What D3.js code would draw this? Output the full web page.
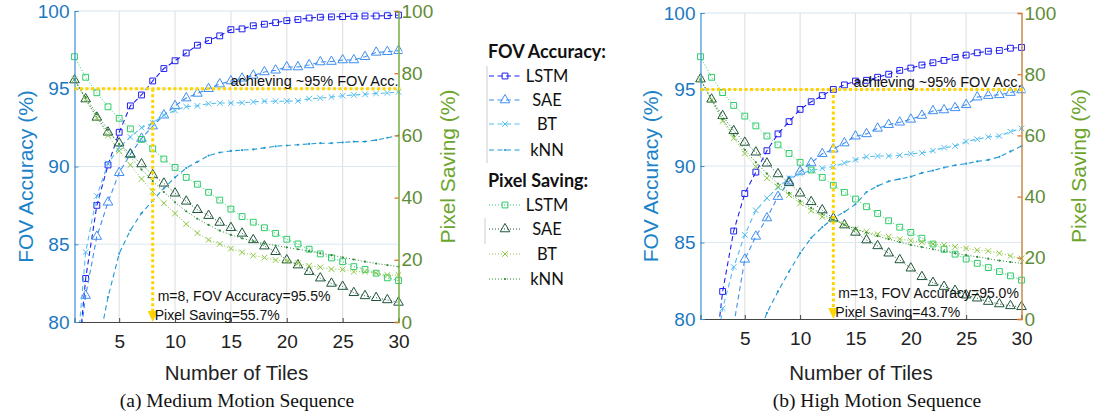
<!DOCTYPE html>
<html lang="en">
  <head>
    <title>FOV accuracy and pixel saving</title>
    <script src="https://d3js.org/d3.v7.min.js"></script>
    <style>
      body { margin: 0; background: #fff; }
      text { font-family: 'Liberation Sans', Arial, sans-serif; }
    </style>
  </head>
  <body>
    <div id='chart'></div>
    <script type='text/javascript'>
      // x categories
      let tiles = [1,2,3,4,5,6,7,8,9,10,11,12,13,14,15,16,17,18,19,20,21,22,23,24,25,26,27,28,29,30]
      let xTicks = [5,10,15,20,25,30]
      let fovTicks = [80,85,90,95,100]
      let pixTicks = [0,20,40,60,80,100]

      // (a) medium motion
      let medFovLstm = [75.0,82.8,87.5,90.1,92.2,93.9,94.6,95.5,96.3,96.8,97.3,97.8,98.1,98.4,98.8,98.85,99.05,99.15,99.25,99.38,99.45,99.55,99.6,99.62,99.64,99.66,99.68,99.68,99.7,99.74]
      let medFovSae  = [76.0,81.7,85.5,87.7,89.6,90.8,91.8,92.6,93.3,93.9,94.4,94.7,95.0,95.3,95.5,95.67,95.86,96.08,96.19,96.4,96.4,96.53,96.72,96.75,96.85,96.85,97.06,97.34,97.38,97.45]
      let medFovBt   = [76.0,84.5,88.1,90.2,91.2,91.9,92.5,92.8,93.3,93.6,93.85,93.9,94.04,94.08,94.08,94.1,94.15,94.2,94.2,94.2,94.22,94.36,94.4,94.47,94.55,94.6,94.64,94.7,94.73,94.8]
      let medFovKnn  = [70.0,74.0,78.0,81.6,84.4,85.9,87.0,87.8,88.6,89.3,89.9,90.3,90.7,90.9,91.0,91.05,91.1,91.2,91.3,91.35,91.4,91.45,91.5,91.5,91.55,91.6,91.6,91.7,91.85,92.0]
      let medPixLstm = [85.3,78.7,73.7,69.2,65.5,62.1,58.7,55.7,52.4,49.7,46.5,44.3,41.7,39.2,36.3,33.9,32.1,30.3,28.5,26.6,25.1,23.4,21.9,20.6,19.4,17.8,16.9,15.7,14.2,13.3]
      let medPixSae  = [77.8,71.7,65.8,61.0,57.5,53.9,50.8,47.3,44.6,41.4,38.8,36.1,34.2,32.0,30.3,28.5,26.4,24.4,22.6,19.9,18.3,16.2,14.1,12.4,11.4,9.4,8.4,7.8,7.1,6.3]
      let medPixBt   = [78.0,71.5,65.5,60.0,55.0,50.5,46.0,41.9,38.2,34.9,31.5,28.6,26.4,25.1,23.6,22.4,21.4,20.7,19.9,19.7,18.9,18.1,17.6,17.0,16.9,16.2,16.2,15.7,15.1,15.1]
      let medPixKnn  = [78.0,72.3,66.8,61.8,57.2,53.0,49.0,45.3,41.8,38.5,35.6,33.2,31.2,29.4,28.0,26.9,26.0,25.2,24.6,24.0,23.4,22.8,22.1,21.5,20.8,20.1,19.4,18.8,18.3,17.8]

      // (b) high motion
      let highFovLstm = [68.0,75.5,81.8,85.75,88.2,89.6,91.0,92.1,92.9,93.7,94.2,94.6,95.0,95.3,95.55,95.6,95.8,96.0,96.25,96.4,96.6,96.75,96.9,97.1,97.25,97.4,97.5,97.55,97.7,97.75]
      let highFovSae  = [62.0,67.0,74.5,79.6,83.9,85.4,86.6,88.0,89.0,89.65,90.2,90.8,91.1,91.5,91.95,92.1,92.46,92.7,92.86,93.05,93.3,93.6,93.66,93.8,94.0,94.5,94.6,94.65,94.8,94.97]
      let highFovBt   = [70.0,76.0,80.7,83.4,85.5,87.1,87.9,88.6,89.2,89.5,89.7,89.85,89.95,90.2,90.4,90.6,90.65,90.65,90.7,90.8,90.85,91.0,91.2,91.3,91.6,91.75,91.9,91.96,92.24,92.46]
      let highFovKnn  = [60.0,66.0,70.0,73.5,76.0,78.5,80.4,81.8,83.1,84.3,85.3,86.0,86.6,87.0,87.5,88.3,88.7,89.0,89.15,89.3,89.55,89.7,89.9,90.05,90.15,90.3,90.4,90.6,90.95,91.3]
      let highPixLstm = [85.7,79.0,74.0,69.8,66.3,63.1,59.8,56.9,54.1,51.2,48.7,46.3,43.7,41.4,39.2,36.7,34.5,32.1,30.0,28.3,26.4,24.5,22.8,21.2,19.6,18.2,16.8,15.5,14.1,12.7]
      let highPixSae  = [78.4,71.8,66.4,61.5,57.7,54.5,50.9,47.4,44.5,41.1,38.3,35.6,32.9,30.7,28.3,25.8,23.9,21.5,19.3,16.6,13.8,11.9,10.6,9.3,7.8,6.8,5.7,4.9,4.3,4.0]
      let highPixBt   = [78.4,71.6,64.7,59.1,54.1,49.8,46.0,43.2,40.5,37.8,35.4,33.4,32.4,30.9,29.3,28.5,27.7,26.9,26.1,25.6,25.1,24.5,24.2,23.6,23.1,22.5,22.2,21.5,20.6,19.8]
      let highPixKnn  = [78.2,71.4,65.3,60.0,55.3,51.2,47.5,44.2,41.2,38.6,36.3,34.3,32.5,30.8,29.4,28.2,27.1,26.1,25.1,24.2,23.5,22.8,22.1,21.5,20.9,20.3,19.7,19.1,18.6,18.2]

      let seriesNames = ['LSTM','SAE','BT','kNN']
      let fovColors = ['#1f1ff0','#3f8ff0','#52bdf0','#1d98d3']
      let pixColors = ['#2fcc6a','#1e5638','#8cc63f','#2e8b3a']
      let markers = ['square','triangle','x','dot']

      let svg = d3.select('#chart').append('svg')
        .attr('width',1093)
        .attr('height',414)

      function marker(sel, kind, color) {
        let sym = {square: d3.symbolSquare, triangle: d3.symbolTriangle, x: d3.symbolX}
        if (kind == 'dot') {
          sel.append('circle').attr('r',1.1).attr('fill',color)
        } else {
          let size = kind == 'square' ? 34 : kind == 'triangle' ? 40 : 22
          sel.append('path')
            .attr('d', d3.symbol().type(sym[kind]).size(size))
            .attr('fill','none').attr('stroke',color).attr('stroke-width',1)
        }
      }

      function panel(cfg) {
        let x = d3.scaleLinear().domain([1,30]).range([cfg.left, cfg.right])
        let yF = d3.scaleLinear().domain([80,100]).range([cfg.bottom, cfg.top])
        let yP = d3.scaleLinear().domain([0,100]).range([cfg.bottom, cfg.top])
        let g = svg.append('g')

        g.append('clipPath').attr('id','clip'+cfg.id)
          .append('rect').attr('x',cfg.left).attr('y',cfg.top-4)
          .attr('width',cfg.right-cfg.left+4).attr('height',cfg.bottom-cfg.top+4)

        // grid
        g.selectAll('.vg').data(xTicks.slice(0,-1)).enter().append('line')
          .attr('x1',d => x(d)).attr('x2',d => x(d))
          .attr('y1',cfg.top).attr('y2',cfg.bottom)
          .attr('stroke','#e2e2e2').attr('stroke-width',1.2)
        g.selectAll('.hg').data([85,90,95]).enter().append('line')
          .attr('x1',cfg.left).attr('x2',cfg.right)
          .attr('y1',d => yF(d)).attr('y2',d => yF(d))
          .attr('stroke','#dbe8f2').attr('stroke-width',1.2)
        g.append('line').attr('x1',cfg.left).attr('x2',cfg.right)
          .attr('y1',cfg.top).attr('y2',cfg.top)
          .attr('stroke','#d6e6f2').attr('stroke-width',1.2)

        let line = d3.line().x((d,i) => x(tiles[i]))

        // fov series
        cfg.fov.forEach((vals, k) => {
          let s = g.append('g').attr('clip-path','url(#clip'+cfg.id+')')
          s.append('path').datum(vals)
            .attr('d', line.y(d => yF(d)))
            .attr('fill','none').attr('stroke',fovColors[k]).attr('stroke-width',1.1)
            .attr('stroke-dasharray','5,3.5')
          let pts = vals.map((v,i) => ({t: tiles[i], v: v})).filter(p => p.v >= 80)
          s.selectAll('g').data(pts).enter().append('g')
            .attr('transform',p => 'translate('+x(p.t)+','+yF(p.v)+')')
            .each(function() { marker(d3.select(this), markers[k], fovColors[k]) })
        })

        // pixel saving series
        cfg.pix.forEach((vals, k) => {
          let s = g.append('g')
          s.append('path').datum(vals)
            .attr('d', line.y(d => yP(d)))
            .attr('fill','none').attr('stroke',pixColors[k]).attr('stroke-width',1)
            .attr('stroke-dasharray','1,2')
          s.selectAll('g').data(vals).enter().append('g')
            .attr('transform',(d,i) => 'translate('+x(tiles[i])+','+yP(d)+')')
            .each(function() { marker(d3.select(this), markers[k], pixColors[k]) })
        })

        // axes
        let ax = g.append('g').attr('transform','translate(0,'+cfg.bottom+')')
          .call(d3.axisBottom(x).tickValues(xTicks).tickSize(-4).tickPadding(13))
        ax.select('.domain').attr('stroke','#444').attr('stroke-width',1.2)
        ax.selectAll('line').attr('stroke','#444')
        ax.selectAll('text').attr('font-size',19).attr('fill','#222')

        let al = g.append('g').attr('transform','translate('+cfg.left+',0)')
          .call(d3.axisLeft(yF).tickValues(fovTicks).tickSize(-4).tickPadding(5))
        al.select('.domain').attr('stroke','#3d90d2').attr('stroke-width',1.2)
        al.selectAll('line').attr('stroke','#3d90d2')
        al.selectAll('text').attr('font-size',19).attr('fill','#1c79c0')

        let ar = g.append('g').attr('transform','translate('+cfg.right+',0)')
          .call(d3.axisRight(yP).tickValues(pixTicks).tickSize(-4).tickPadding(3))
        ar.select('.domain').attr('stroke',cfg.rightAxis).attr('stroke-width',1.5)
        ar.selectAll('line').attr('stroke','#e4722c').attr('stroke-width',1.3)
        ar.selectAll('text').attr('font-size',19).attr('fill','#5f8d38')

        // titles
        g.append('text').attr('transform','translate('+cfg.lTitle+','+((cfg.top+cfg.bottom)/2+10)+') rotate(-90)')
          .attr('text-anchor','middle').attr('font-size',21).attr('fill','#1c83c9')
          .text('FOV Accuracy (%)')
        g.append('text').attr('transform','translate('+cfg.rTitle+','+((cfg.top+cfg.bottom)/2)+') rotate(-90)')
          .attr('text-anchor','middle').attr('font-size',21).attr('fill','#6ca52c')
          .text('Pixel Saving (%)')
        g.append('text').attr('x',(cfg.left+cfg.right)/2).attr('y',380)
          .attr('text-anchor','middle').attr('font-size',20.5).attr('fill','#222')
          .text('Number of Tiles')
        g.append('text').attr('x',cfg.capX).attr('y',407)
          .attr('text-anchor','middle').attr('font-size',19.5).attr('fill','#111')
          .style('font-family',"'Liberation Serif', 'DejaVu Serif', serif")
          .text(cfg.caption)

        // 95% marker
        let ym = yF(95)
        g.append('line').attr('x1',cfg.left).attr('x2',cfg.right+2)
          .attr('y1',ym).attr('y2',ym)
          .attr('stroke','#ffd500').attr('stroke-width',3).attr('stroke-dasharray','3,2.5')
        g.append('line').attr('x1',x(cfg.m)).attr('x2',x(cfg.m))
          .attr('y1',ym).attr('y2',cfg.bottom-9)
          .attr('stroke','#ffd500').attr('stroke-width',3).attr('stroke-dasharray','3,2.5')
        g.append('path')
          .attr('d','M'+(x(cfg.m)-5)+','+(cfg.bottom-11)+'L'+(x(cfg.m)+5)+','+(cfg.bottom-11)+'L'+x(cfg.m)+','+cfg.bottom+'Z')
          .attr('fill','#ffd500')
        g.append('text').attr('x',cfg.right).attr('y',ym-3)
          .attr('text-anchor','end').attr('font-size',14.5).attr('fill','#111')
          .text('achieving ~95% FOV Acc.')
        g.append('text').attr('x',x(cfg.m)+5).attr('y',cfg.bottom-21)
          .attr('font-size',14).attr('fill','#111')
          .text(cfg.note1)
        g.append('text').attr('x',x(cfg.m)+2).attr('y',cfg.bottom-2)
          .attr('font-size',14).attr('fill','#111')
          .text(cfg.note2)
      }

      panel({id:'a', left:74.5, right:398.5, top:11, bottom:322, lTitle:33, rTitle:455,
             rightAxis:'#76b043', m:8, capX:237,
             fov:[medFovLstm,medFovSae,medFovBt,medFovKnn],
             pix:[medPixLstm,medPixSae,medPixBt,medPixKnn],
             note1:'m=8, FOV Accuracy=95.5%', note2:'Pixel Saving=55.7%',
             caption:'(a) Medium Motion Sequence'})
      panel({id:'b', left:700.5, right:1021.5, top:13, bottom:319, lTitle:658, rTitle:1086,
             rightAxis:'#c98a4a', m:13, capX:877,
             fov:[highFovLstm,highFovSae,highFovBt,highFovKnn],
             pix:[highPixLstm,highPixSae,highPixBt,highPixKnn],
             note1:'m=13, FOV Accuracy=95.0%', note2:'Pixel Saving=43.7%',
             caption:'(b) High Motion Sequence'})

      // legend
      let lg = svg.append('g').style('font-family','Lato, sans-serif')
      lg.append('line').attr('x1',487).attr('x2',487).attr('y1',66).attr('y2',163)
        .attr('stroke','#ccc')
      lg.append('line').attr('x1',485).attr('x2',485).attr('y1',218).attr('y2',244)
        .attr('stroke','#ccc')
      let groups = [
        {title:'FOV Accuracy:', y:58, colors:fovColors, dash:'5,3.5', rows:[82,106,130,156]},
        {title:'Pixel Saving:', y:187, colors:pixColors, dash:'1,2', rows:[211,235,260,285]}
      ]
      groups.forEach(gr => {
        lg.append('text').attr('x',488).attr('y',gr.y)
          .attr('font-size',18).attr('font-weight','bold').attr('fill','#111')
          .style('font-family','Lato, sans-serif').text(gr.title)
        seriesNames.forEach((name,k) => {
          let yy = gr.rows[k] - 6
          lg.append('line').attr('x1',489).attr('x2',522).attr('y1',yy).attr('y2',yy)
            .attr('stroke',gr.colors[k]).attr('stroke-width',1.1).attr('stroke-dasharray',gr.dash)
          let mk = lg.append('g').attr('transform','translate(505,'+yy+')')
          marker(mk, markers[k], gr.colors[k])
          lg.append('text').attr('x',547).attr('y',gr.rows[k])
            .attr('text-anchor','middle').attr('font-size',16.5).attr('fill','#111')
            .style('font-family','Lato, sans-serif').text(name)
        })
      })
    </script>
  </body>
</html>
